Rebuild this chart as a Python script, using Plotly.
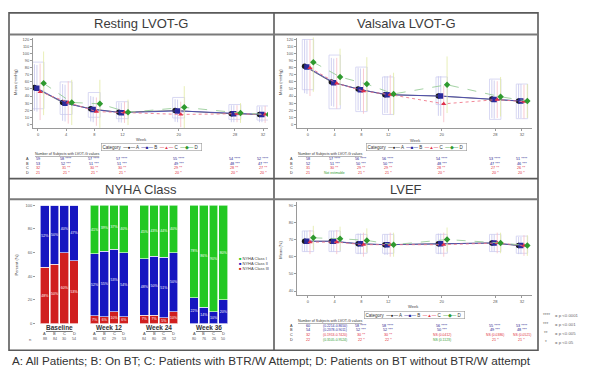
import plotly.graph_objects as go

W, H = 597, 371
def px(x): return x / W
def py(y): return 1 - y / H

# ---------------- data ----------------
weeks = [0, 4, 8, 12, 20, 28, 32]
week_labels = ["0", "4", "8", "12", "20", "28", "32"]
categories = ["A", "B", "C", "D"]

lvot_yticks = [0, 10, 20, 30, 40, 50, 60, 70, 80, 90, 100, 110, 120]
lvef_yticks = [40, 50, 60, 70, 80, 90]

# Resting LVOT-G means / SD
rest_A = [52, 31, 22, 17, 19.5, 15, 14]
rest_B = [51, 30, 21, 16.5, 19, 15, 14]
rest_C = [46, 31, 18, 17, 14, 15, 14]
rest_D = [58, 31, 29, 17, 24, 16, 14]
rest_sd_A = [33, 26, 18, 14, 16, 12, 11]
rest_sd_C = [40, 30, 20, 15, 18, 12, 12]
rest_sd_D = [45, 32, 34, 18, 30, 14, 13]
rest_q1 = [22, 14, 10, 8, 9, 7, 6]
rest_med = [48, 28, 19, 15, 17, 13, 12]
rest_q3 = [88, 60, 45, 32, 38, 28, 26]

# Valsalva LVOT-G means / SD
vals_A = [82, 60, 50, 42, 40, 36, 33]
vals_B = [81, 59, 49, 42, 40, 35, 33]
vals_C = [80, 58, 47, 42, 29, 35, 32]
vals_D = [88, 67, 57, 43, 56, 39, 33]
vals_sd_A = [38, 34, 30, 26, 28, 27, 24]
vals_sd_C = [40, 36, 32, 28, 26, 26, 24]
vals_sd_D = [42, 40, 38, 30, 40, 28, 24]
vals_q1 = [49, 22, 18, 14, 28, 7, 8]
vals_med = [80, 58, 48, 40, 40, 34, 32]
vals_q3 = [120, 98, 81, 67, 67, 64, 57]

# LVEF means / SD
lvef_A = [69, 69, 67.5, 67, 67.5, 68, 66.5]
lvef_B = [69, 69, 67.5, 67, 67.5, 68, 66.5]
lvef_C = [68.5, 68.5, 67, 67, 67, 68, 66.5]
lvef_D = [71, 70.5, 69.5, 67, 70, 68, 66.5]
lvef_sd_A = [6, 6, 6, 6, 6, 5, 5]
lvef_sd_C = [7, 7, 7, 7, 7, 6, 6]
lvef_sd_D = [7, 7, 7, 7, 7, 6, 6]
lvef_q1 = [63, 63, 62, 62, 62, 63, 62]
lvef_med = [69, 69, 67.5, 67, 67.5, 68, 66.5]
lvef_q3 = [75, 75, 73, 73, 73, 73, 72]

# NYHA class percentages (Baseline, Week 12, Week 24, Week 36) x (A, B, C, D)
nyha_groups = ["Baseline", "Week 12", "Week 24", "Week 36"]
nyha_I = [0, 0, 0, 0, 41, 39, 37, 40, 45, 43, 44, 40, 78, 86, 90, 80]
nyha_II = [52.5, 50, 40, 47, 52.3, 55, 53, 54, 48, 50, 51, 50, 22, 14, 10, 20]
nyha_III = [47.5, 50, 60, 53, 6.7, 6, 10, 6, 7, 7, 5, 10, 0, 0, 0, 0]
nyha_n = [88, 84, 30, 54, 86, 82, 29, 53, 84, 80, 28, 52, 80, 76, 26, 50]

# Tables: number of subjects with values
rest_n_A = [59, 58, 57, 57, 55, 54, 52]
rest_n_B = [53, 52, 51, 51, 49, 48, 47]
rest_n_C = [32, 31, 30, 30, 29, 28, 27]
rest_n_D = [21, 21, 21, 21, 20, 20, 20]
vals_n_A = [58, 57, 56, 56, 54, 53, 51]
vals_n_B = [52, 51, 50, 50, 48, 47, 46]
vals_n_C = [31, 30, 29, 29, 28, 27, 26]
vals_n_D = [21, 21, 21, 21, 20, 20, 20]
lvef_n_A = [60, 59, 58, 58, 56, 55, 53]
lvef_n_B = [54, 53, 52, 52, 50, 49, 48]
lvef_n_C = [32, 31, 30, 30, 29, 28, 27]
lvef_n_D = [22, 22, 22, 22, 21, 21, 21]
stars = ["", "****", "***", "**", "*"]

sig_keys = ["****", "***", "**", "*"]
sig_text = ["= p <0.0001", "= p <0.001", "= p <0.005", "= p <0.05"]

caption = "A: All Patients; B: On BT; C: Patients with BTR/W Attempt; D: Patients on BT without BTR/W attempt"

# ---------------- styling ----------------
FONT = "Liberation Sans, Arial, sans-serif"
cat_color = {"A": "#1a1a1a", "B": "#2a2a9c", "C": "#e0304a", "D": "#2f9a2f"}
cat_line = {"A": "#666666", "B": "#4a4ab0", "C": "#f07a8c", "D": "#9acd9a"}
cat_faint = {"A": "#c4c4ec", "B": "#c4c4ec", "C": "#f6bcc6", "D": "#e2eaa4"}
cat_symbol = {"A": "circle", "B": "square", "C": "triangle-up", "D": "diamond"}
cat_size = {"A": 5.5, "B": 5.5, "C": 4.5, "D": 5}
cat_dash = {"A": "solid", "B": "solid", "C": "dot", "D": "dash"}
cat_off = {"A": -0.5, "B": -0.15, "C": 0.3, "D": 0.8}
tbl_color = {"A": "#23238e", "B": "#23238e", "C": "#e03040", "D": "#e03040"}

fig = go.Figure()

panels = [
    dict(xa="x", ya="y", means=[rest_A, rest_B, rest_C, rest_D],
         sds=[rest_sd_A, rest_sd_A, rest_sd_C, rest_sd_D],
         box=(rest_q1, rest_med, rest_q3)),
    dict(xa="x2", ya="y2", means=[vals_A, vals_B, vals_C, vals_D],
         sds=[vals_sd_A, vals_sd_A, vals_sd_C, vals_sd_D],
         box=(vals_q1, vals_med, vals_q3)),
    dict(xa="x4", ya="y4", means=[lvef_A, lvef_B, lvef_C, lvef_D],
         sds=[lvef_sd_A, lvef_sd_A, lvef_sd_C, lvef_sd_D],
         box=(lvef_q1, lvef_med, lvef_q3)),
]

for p in panels:
    q1, med, q3 = p["box"]
    fig.add_trace(go.Box(
        x=weeks, q1=q1, median=med, q3=q3,
        lowerfence=q1, upperfence=q3, width=1.7,
        line=dict(color="#cfcff0", width=0.8), fillcolor="rgba(0,0,0,0)",
        whiskerwidth=0, showlegend=False, hoverinfo="skip",
        xaxis=p["xa"], yaxis=p["ya"]))
    for k, c in enumerate(categories):
        fig.add_trace(go.Scatter(
            x=[w + cat_off[c] for w in weeks], y=p["means"][k],
            mode="lines+markers",
            error_y=dict(type="data", array=p["sds"][k], color=cat_faint[c],
                         thickness=0.8, width=0),
            line=dict(color=cat_line[c], width=0.9, dash=cat_dash[c]),
            marker=dict(symbol=cat_symbol[c], color=cat_color[c], size=cat_size[c],
                        line=dict(width=0)),
            showlegend=False, xaxis=p["xa"], yaxis=p["ya"]))

# NYHA stacked bars
bar_x = [g * 5.1 + i for g in range(len(nyha_groups)) for i in range(len(categories))]
for vals, col, name in [(nyha_III, "#d01f1f", "NYHA Class III"),
                        (nyha_II, "#1616c0", "NYHA Class II"),
                        (nyha_I, "#22c822", "NYHA Class I")]:
    fig.add_trace(go.Bar(
        x=bar_x, y=vals, width=0.9, name=name,
        marker=dict(color=col, line=dict(color="white", width=0.6)),
        text=[f"{v:.0f}%" if v > 0 else "" for v in vals],
        textposition="inside", insidetextanchor="middle", textangle=0,
        textfont=dict(color="white", size=3.5, family=FONT),
        constraintext="none",
        showlegend=False, xaxis="x3", yaxis="y3"))

# ---------------- axes ----------------
tickfont = dict(size=4, color="#555", family=FONT)
def line_x(dom, rng):
    return dict(domain=[px(dom[0]), px(dom[1])], range=rng, tickvals=weeks,
                ticktext=week_labels, tickfont=tickfont, showline=True,
                linecolor="#9a9a9a", linewidth=0.8, ticks="outside", ticklen=2,
                tickcolor="#9a9a9a", showgrid=False, zeroline=False)
def line_y(dom, rng, tv):
    return dict(domain=[py(dom[1]), py(dom[0])], range=rng, tickvals=tv,
                tickfont=tickfont, showline=True, linecolor="#9a9a9a",
                linewidth=0.8, ticks="outside", ticklen=2, tickcolor="#9a9a9a",
                showgrid=False, zeroline=False)

fig.update_layout(
    xaxis=dict(line_x((33, 268), [-0.71, 32.71]), anchor="y"),
    yaxis=dict(line_y((35, 127), [-5.6, 122.8], lvot_yticks), anchor="x"),
    xaxis2=dict(line_x((297, 532), [-1.64, 33.5]), anchor="y2"),
    yaxis2=dict(line_y((35, 127), [-5.6, 122.8], lvot_yticks), anchor="x2"),
    xaxis4=dict(line_x((297, 532), [-1.64, 33.5]), anchor="y4"),
    yaxis4=dict(line_y((202, 296), [37.7, 91.7], lvef_yticks), anchor="x4"),
    xaxis3=dict(domain=[px(36), px(234)], range=[-0.9, 19.4], showticklabels=False,
                showgrid=False, zeroline=False, showline=False, anchor="y3"),
    yaxis3=dict(domain=[py(325), py(205)], range=[0, 100],
                tickvals=[0, 20, 40, 60, 80, 100], tickfont=tickfont,
                ticks="outside", ticklen=2, tickcolor="#9a9a9a",
                showgrid=False, zeroline=False, showline=False, anchor="x3"),
    barmode="stack",
)

# ---------------- frame shapes ----------------
shapes = []
fc = "#5a5a5a"
shapes.append(dict(type="rect", xref="paper", yref="paper", x0=px(9), x1=px(538),
                   y0=py(352), y1=py(10), line=dict(color=fc, width=1.6)))
shapes.append(dict(type="line", xref="paper", yref="paper", x0=px(274), x1=px(274),
                   y0=py(352), y1=py(10), line=dict(color=fc, width=1.6)))
shapes.append(dict(type="line", xref="paper", yref="paper", x0=px(9), x1=px(538),
                   y0=py(178), y1=py(178), line=dict(color=fc, width=1.6)))
for yy in (32, 199):
    shapes.append(dict(type="line", xref="paper", yref="paper", x0=px(9), x1=px(538),
                       y0=py(yy), y1=py(yy), line=dict(color="#7a7a7a", width=2)))
fig.update_layout(shapes=shapes)

# ---------------- annotations ----------------
ann = []
def A(x, y, text, size=4, color="#444", xanchor="center", xref="paper",
      textangle=0, **kw):
    ann.append(dict(x=x, y=y, xref=xref, yref="paper", text=text, showarrow=False,
                    xanchor=xanchor, yanchor="middle", textangle=textangle,
                    font=dict(size=size, color=color, family=FONT), **kw))

for t, x, y in [("Resting LVOT-G", 141, 21), ("Valsalva LVOT-G", 406, 21),
                ("NYHA Class", 141, 189), ("LVEF", 406, 189)]:
    A(px(x), py(y), t, size=13, color="#3c3c3c")

# axis titles
A(px(16), py(80), "Mean (mmHg)", textangle=-90)
A(px(281), py(80), "Mean (mmHg)", textangle=-90)
A(px(281), py(250), "Mean (%)", textangle=-90)
A(px(16), py(265), "Percent (%)", textangle=-90)
A(px(141), py(138), "Week")
A(px(415), py(139), "Week")
A(px(413), py(308), "Week")

# category legends (text)
def legend_text():
    parts = ["Category  "]
    glyph = {"A": "●", "B": "■", "C": "▲", "D": "◆"}
    for c in categories:
        parts.append(f"<span style='color:{cat_color[c]}'>—{glyph[c]}—</span> {c}  ")
    return "".join(parts)
for x, y in [(151, 146), (416, 146), (414, 316)]:
    A(px(x), py(y), legend_text(), size=4.5, color="#333",
      bordercolor="#999", borderwidth=0.6, borderpad=1, bgcolor="white")

# tables
def table(xa, x_label, x_header, y0, rows, special=None):
    A(px(x_header), py(y0), "<u>Number of Subjects with LVOT-G values</u>",
      size=3.6, color="#333", xanchor="left")
    for r, c in enumerate(categories):
        yy = y0 + 5 + r * 4.8
        A(px(x_label), py(yy), c, size=3.8, color="#333")
        for j, w in enumerate(weeks):
            s = "" if j == 0 else stars[min(r + 1, 4)] if r > 0 else stars[1]
            txt = f"{rows[r][j]}{(' ' + s) if s else ''}"
            col = tbl_color[c]
            size = 3.8
            if special and (r, j) in special:
                txt, col = special[(r, j)]
                size = 3.4
            A(w, py(yy), txt, size=size, color=col, xref=xa)

table("x", 27, 33, 153, [rest_n_A, rest_n_B, rest_n_C, rest_n_D])
table("x2", 291, 296, 153, [vals_n_A, vals_n_B, vals_n_C, vals_n_D],
      special={(3, 1): ("Not estimable", "#2f9a2f")})
table("x4", 291, 296, 322, [lvef_n_A, lvef_n_B, lvef_n_C, lvef_n_D],
      special={(0, 1): ("(0.2214-0.8650)", "#2a2a9c"),
               (1, 1): ("(0.2378-0.9011)", "#2a2a9c"),
               (2, 1): ("(0.1953-0.7420)", "#e03040"),
               (3, 1): ("(0.3105-0.9524)", "#2f9a2f"),
               (2, 4): ("NS (0.0412)", "#e03040"),
               (2, 5): ("NS (0.0386)", "#e03040"),
               (2, 6): ("NS (0.0521)", "#e03040"),
               (3, 4): ("NS (0.1123)", "#2f9a2f")})

# NYHA legend
for i, (name, col) in enumerate([("NYHA Class I", "#22c822"),
                                 ("NYHA Class II", "#1616c0"),
                                 ("NYHA Class III", "#d01f1f")]):
    A(px(237), py(259 + i * 5), f"<span style='color:{col}'>■</span> {name}",
      size=4, color="#444", xanchor="left")

# NYHA group labels, letters and n
for g, name in enumerate(nyha_groups):
    A(g * 5.1 + 1.5, py(329), f"<b><u>{name}</u></b>", size=6.5, color="#333", xref="x3")
for i, x in enumerate(bar_x):
    A(x, py(335), categories[i % 4], size=4, color="#444", xref="x3")
    A(x, py(341), str(nyha_n[i]), size=3.6, color="#555", xref="x3")
A(px(30), py(341), "n", size=4, color="#555")

# significance key
for i, (k, t) in enumerate(zip(sig_keys, sig_text)):
    yy = 317 + i * 9
    A(px(546), py(yy), k, size=4.5, color="#777")
    A(px(553), py(yy), t, size=4.3, color="#666", xanchor="left")

# caption
A(px(10), py(362), caption, size=11.7, color="#333", xanchor="left")

fig.update_layout(
    annotations=ann,
    width=W, height=H, margin=dict(l=0, r=0, t=0, b=0),
    paper_bgcolor="white", plot_bgcolor="white",
    font=dict(family=FONT, size=6, color="#444"),
    showlegend=False,
)

fig.write_html("out.html", config={"displayModeBar": False},
               post_script="document.body.style.margin='0px';document.body.style.overflow='hidden';")
